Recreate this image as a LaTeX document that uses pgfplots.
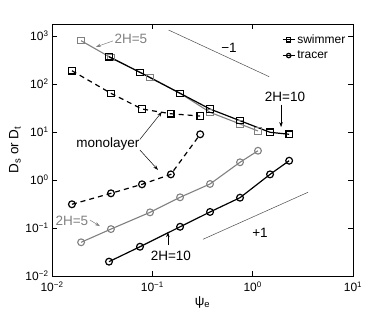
\documentclass[border=0pt]{standalone}
\usepackage{pgfplots}
\pgfplotsset{compat=1.18}
\usepackage{fontspec}
\setmainfont{Liberation Sans}
\usetikzlibrary{arrows.meta}
\newcommand\fa{\fontsize{13.5}{15}\selectfont}
\newcommand\ft{\fontsize{12}{14}\selectfont}
\begin{document}
\begin{tikzpicture}
\begin{axis}[name=ax,
  scale only axis, width=301pt, height=252pt,
  xmode=log, ymode=log, log basis x=10, log basis y=10,
  xmin=1e-2, xmax=1e1, ymin=1e-2, ymax=1778,
  xtick={0.01,0.1,1,10}, ytick={0.01,0.1,1,10,100,1000},
  xticklabel={\pgfmathtruncatemacro{\e}{round(\tick)}10\textsuperscript{\ifnum\e<0 −\the\numexpr-\e\relax\else\e\fi}},
  yticklabel={\pgfmathtruncatemacro{\e}{round(\tick)}10\textsuperscript{\ifnum\e<0 −\the\numexpr-\e\relax\else\e\fi}},
  tick label style={font=\ft},
  xticklabel style={yshift=-2pt},
  major tick length=5pt, minor tick length=3pt,
  tick style={black, line width=0.5pt},
  axis line style={line width=0.8pt},
  xlabel={ψ\textsubscript{e}}, ylabel={D\textsubscript{s} or D\textsubscript{t}},
  label style={font=\fa},
  xlabel style={yshift=2pt},
  ylabel style={yshift=-2pt},
  legend style={draw=none, fill=none, at={(rel axis cs:0.985,0.97)}, anchor=north east, font=\ft, row sep=2pt, inner sep=1pt},
  legend cell align=left,
  legend image code/.code={\draw[mark repeat=2,mark phase=2,mark size=2.2pt] plot coordinates {(0pt,0pt)(6pt,0pt)(12pt,0pt)};},
]
% slope guide lines
\addplot[forget plot, line width=0.5pt, black!70] coordinates {(0.145,1334) (1.46,142)};
\addplot[forget plot, line width=0.5pt, black!70] coordinates {(0.32,0.0582) (3.56,0.555)};
% gray 2H=5
\addplot[forget plot, gray, line width=1.1pt, mark=square, mark size=3.2pt, mark options={fill=white, solid}] coordinates {
(0.0195,798) (0.0387,353) (0.0948,138) (0.189,64) (0.376,25.7) (0.748,14.7) (1.13,10.5)};
\addplot[forget plot, gray, line width=1.1pt, mark=o, mark size=3.4pt, mark options={fill=white, solid}] coordinates {
(0.0195,0.0504) (0.0387,0.095) (0.0948,0.212) (0.189,0.436) (0.376,0.826) (0.748,2.34) (1.13,4.07)};
% monolayer
\addplot[forget plot, black, line width=1.2pt, dashed, dash pattern=on 5pt off 4pt, mark=square, mark size=3.2pt, mark options={fill=white, solid}] coordinates {
(0.0158,189) (0.0387,64) (0.0789,30.1) (0.153,24) (0.30,21.5)};
\addplot[forget plot, black, line width=1.2pt, dashed, dash pattern=on 5pt off 4pt, mark=o, mark size=3.4pt, mark options={fill=white, solid}] coordinates {
(0.0158,0.312) (0.0387,0.528) (0.0789,0.813) (0.153,1.31) (0.30,8.96)};
% black 2H=10
\addplot[black, line width=1.2pt, mark=square, mark size=3.2pt, mark options={fill=white, solid}] coordinates {
(0.037,370) (0.0753,175) (0.189,64) (0.376,30.1) (0.748,17.2) (1.49,9.86) (2.31,8.96)};
\addlegendentry{swimmer}
\addplot[black, line width=1.2pt, mark=o, mark size=3.4pt, mark options={fill=white, solid}] coordinates {
(0.037,0.0199) (0.0753,0.0407) (0.189,0.106) (0.376,0.216) (0.748,0.428) (1.49,1.31) (2.31,2.52)};
\addlegendentry{tracer}
% annotations
\node[font=\fa] at (rel axis cs:0.588,0.905) {−1};
\node[font=\fa] at (rel axis cs:0.691,0.171) {+1};
\node[font=\fa, text=gray] at (rel axis cs:0.262,0.940) {2H=5};
\draw[gray, line width=0.5pt, -{Stealth[length=5pt,width=3.5pt]}] (rel axis cs:0.203,0.933) -- (rel axis cs:0.146,0.909);
\node[font=\fa] at (rel axis cs:0.774,0.712) {2H=10};
\draw[black, line width=0.5pt, -{Stealth[length=5pt,width=3.5pt]}] (rel axis cs:0.761,0.680) -- (rel axis cs:0.761,0.591);
\node[font=\fa] at (rel axis cs:0.186,0.524) {monolayer};
\draw[black, line width=0.5pt, -{Stealth[length=5pt,width=3.5pt]}] (rel axis cs:0.292,0.542) -- (rel axis cs:0.365,0.651);
\draw[black, line width=0.5pt, -{Stealth[length=5pt,width=3.5pt]}] (rel axis cs:0.292,0.500) -- (rel axis cs:0.352,0.421);
\node[font=\fa, text=gray] at (rel axis cs:0.066,0.218) {2H=5};
\draw[gray, line width=0.5pt, -{Stealth[length=5pt,width=3.5pt]}] (rel axis cs:0.126,0.222) -- (rel axis cs:0.159,0.198);
\node[font=\fa] at (rel axis cs:0.395,0.081) {2H=10};
\draw[black, line width=0.5pt, -{Stealth[length=5pt,width=3.5pt]}] (rel axis cs:0.385,0.123) -- (rel axis cs:0.385,0.174);
\end{axis}
\pgfresetboundingbox
\path[use as bounding box] ([xshift=-52pt,yshift=-37pt]ax.south west) rectangle ([xshift=37pt,yshift=24pt]ax.north east);
\end{tikzpicture}
\end{document}
